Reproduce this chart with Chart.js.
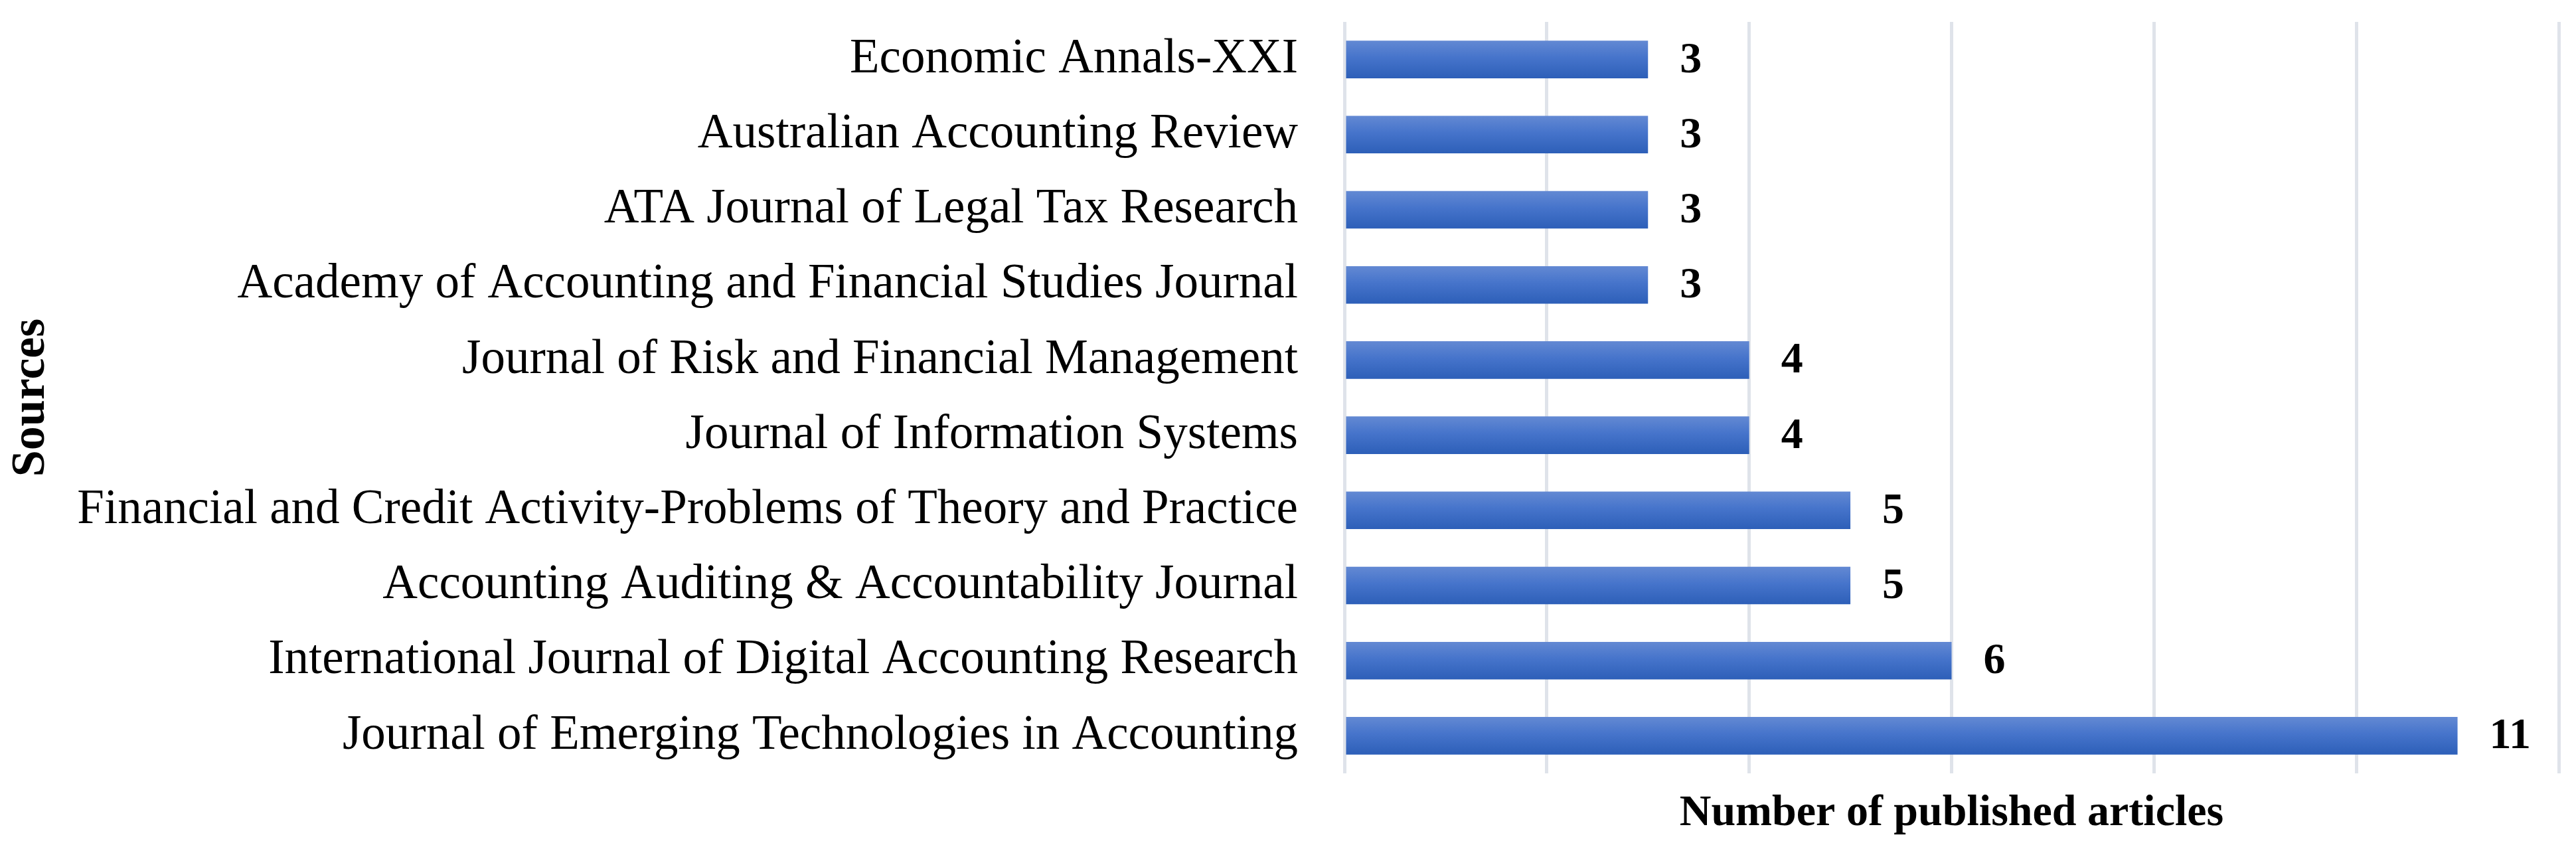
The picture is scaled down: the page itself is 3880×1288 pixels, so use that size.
<!DOCTYPE html>
<html>
<head>
<meta charset="utf-8">
<script src="https://cdn.jsdelivr.net/npm/chart.js@4/dist/chart.umd.min.js"></script>
<style>
html,body{margin:0;padding:0;background:#fff;}
#wrap{width:3880px;height:1288px;}
</style>
</head>
<body>
<div id="wrap"><canvas id="c" width="3880" height="1288"></canvas></div>
<script>
const categories = [
  "Economic Annals-XXI",
  "Australian Accounting Review",
  "ATA Journal of Legal Tax Research",
  "Academy of Accounting and Financial Studies Journal",
  "Journal of Risk and Financial Management",
  "Journal of Information Systems",
  "Financial and Credit Activity-Problems of Theory and Practice",
  "Accounting Auditing & Accountability Journal",
  "International Journal of Digital Accounting Research",
  "Journal of Emerging Technologies in Accounting"
];
const articleCounts = [3, 3, 3, 3, 4, 4, 5, 5, 6, 11];
const xAxisTitle = "Number of published articles";
const yAxisTitle = "Sources";
const xMin = 0, xMax = 12, xStep = 2;

const FONT = "'Liberation Serif', 'Times New Roman', serif";

const valueLabels = {
  id: 'valueLabels',
  afterDatasetsDraw(chart) {
    const ctx = chart.ctx;
    const meta = chart.getDatasetMeta(0);
    ctx.save();
    ctx.font = "bold 66px " + FONT;
    ctx.fillStyle = '#000';
    ctx.textAlign = 'left';
    ctx.textBaseline = 'middle';
    meta.data.forEach((bar, i) => {
      ctx.fillText(String(articleCounts[i]), bar.x + 48, bar.y + 2);
    });
    ctx.restore();
  }
};

new Chart(document.getElementById('c'), {
  type: 'bar',
  data: {
    labels: categories,
    datasets: [{
      data: articleCounts,
      categoryPercentage: 1.0,
      barPercentage: 0.5,
      borderWidth: 0,
      backgroundColor: (c) => {
        const chart = c.chart;
        const area = chart.chartArea;
        if (!area || c.type !== 'data' || !chart.scales.y) return '#4472c4';
        const y = chart.scales.y.getPixelForValue(c.dataIndex);
        const h = (area.bottom - area.top) / categories.length * 0.5;
        const g = chart.ctx.createLinearGradient(0, y - h / 2, 0, y + h / 2);
        g.addColorStop(0, '#6389d3');
        g.addColorStop(0.45, '#4674cb');
        g.addColorStop(1, '#2d5fb8');
        return g;
      }
    }]
  },
  options: {
    indexAxis: 'y',
    responsive: false,
    animation: false,
    devicePixelRatio: 1,
    layout: { padding: { top: 33, right: 26, bottom: 0, left: 0 } },
    plugins: {
      legend: { display: false },
      tooltip: { enabled: false }
    },
    scales: {
      x: {
        min: xMin, max: xMax,
        ticks: { display: false, stepSize: xStep },
        grid: { color: '#dfe3ea', lineWidth: 5, drawTicks: false },
        border: { display: false },
        title: {
          display: true, text: xAxisTitle, color: '#000',
          font: { family: FONT, size: 66, weight: 'bold', lineHeight: 1.2 },
          padding: { top: 0, bottom: 22 }
        },
        afterFit(scale) { scale.height = 123; scale.paddingLeft = 0; scale.paddingRight = 0; }
      },
      y: {
        ticks: {
          color: '#000', padding: 70,
          font: { family: FONT, size: 73 },
          autoSkip: false
        },
        grid: { display: false, drawTicks: false },
        border: { display: false },
        title: {
          display: true, text: yAxisTitle, color: '#000',
          font: { family: FONT, size: 72, weight: 'bold', lineHeight: 1.2 },
          padding: { top: 4, bottom: 0 }
        },
        afterFit(scale) { scale.width = 2025; scale.paddingTop = 0; scale.paddingBottom = 0; }
      }
    }
  },
  plugins: [valueLabels]
});
</script>
</body>
</html>
